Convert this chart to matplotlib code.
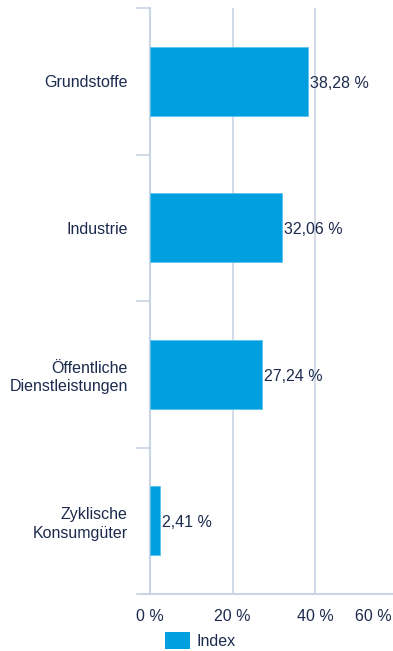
import matplotlib
matplotlib.use("Agg")
import matplotlib.pyplot as plt
import matplotlib.transforms as mtransforms
from matplotlib.patches import Patch

categories = ["Grundstoffe", "Industrie", "Öffentliche\nDienstleistungen", "Zyklische\nKonsumgüter"]
values = [38.28, 32.06, 27.24, 2.41]
xticks = [0, 20, 40, 60]
series_name = "Index"

bar_color = "#009fdf"
text_color = "#1c2a4d"
line_color = "#c9d5e4"

plt.rcParams["font.family"] = ["Liberation Sans", "DejaVu Sans"]

fig = plt.figure(figsize=(3.93, 6.51), dpi=100)
ax = fig.add_axes([150 / 393, 57 / 651, 247.5 / 393, 586 / 651])

pos = list(range(len(categories)))
ax.barh(pos, values, height=0.47, color=bar_color, edgecolor="#5cc3ee", linewidth=0.6, zorder=3)

for p, v in zip(pos, values):
    ax.annotate(f"{v:.2f}".replace(".", ",") + " %", xy=(v, p), xytext=(1.2, -1.5),
                textcoords="offset points", va="center", ha="left",
                fontsize=11.5, color=text_color, zorder=4)

ax.set_xlim(0, 60)
ax.set_ylim(len(categories) - 0.5, -0.5)

ax.set_xticks(xticks)
ax.set_xticklabels([f"{t} %" for t in xticks])
ax.tick_params(axis="x", length=0, pad=11, labelsize=11.5, labelcolor=text_color)
# last label is pulled inward so it does not hang past the plot edge
last = ax.get_xticklabels()[-1]
last.set_transform(last.get_transform() + mtransforms.ScaledTranslation(-24 / 100, 0, fig.dpi_scale_trans))

ax.set_yticks(pos)
ax.set_yticklabels(categories, multialignment="right", linespacing=1.3)
ax.set_yticks([p - 0.5 for p in range(len(categories) + 1)], minor=True)
ax.tick_params(axis="y", which="major", length=0, pad=16, labelsize=11.5, labelcolor=text_color)
ax.tick_params(axis="y", which="minor", length=10, width=1.2, color=line_color)

ax.grid(axis="x", color=line_color, linewidth=1.2, zorder=0)
for side in ["top", "right"]:
    ax.spines[side].set_visible(False)
ax.spines["left"].set_color(line_color)
ax.spines["left"].set_linewidth(1.5)
ax.spines["bottom"].set_color(line_color)
ax.spines["bottom"].set_linewidth(1.5)
ax.spines["bottom"].set_bounds(-1.95, 60)
ax.spines["bottom"].set_clip_on(False)

handle = Patch(facecolor=bar_color, edgecolor="none", label=series_name)
fig.legend(handles=[handle], loc="upper left", bbox_to_anchor=(165 / 393, 1 - 632 / 651),
           frameon=False, fontsize=11.5, labelcolor=text_color, handlelength=1.55,
           handleheight=1.3, handletextpad=0.4, borderpad=0, borderaxespad=0)

fig.savefig("out.png", dpi=100)
